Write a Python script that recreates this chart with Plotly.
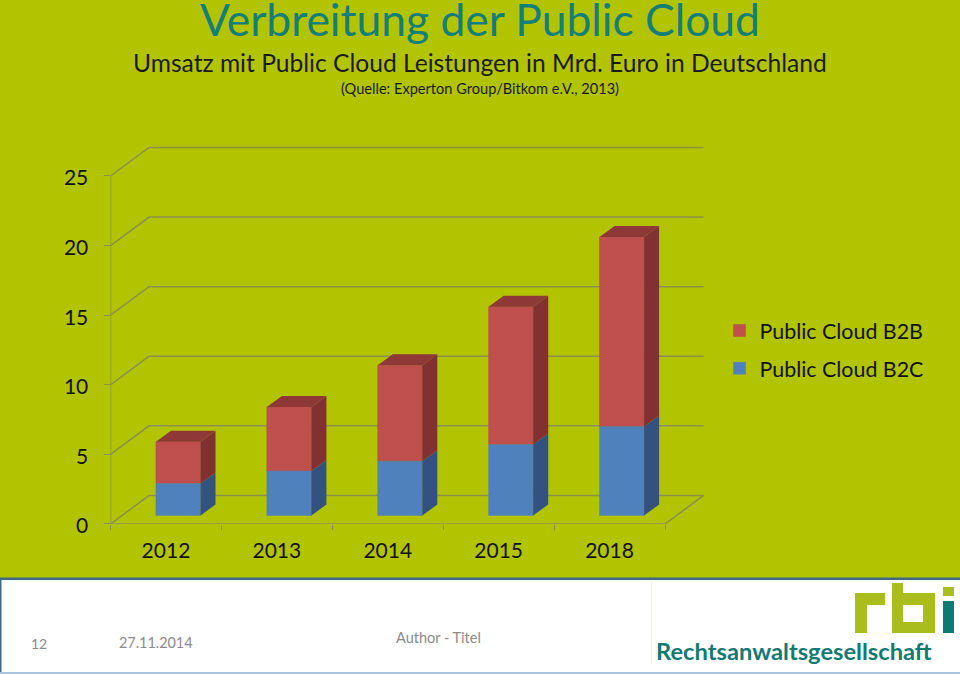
import plotly.graph_objects as go

years = ["2012", "2013", "2014", "2015", "2018"]
b2c = [2.3, 3.2, 3.9, 5.1, 6.4]
b2b = [3.0, 4.6, 6.9, 9.9, 13.6]
y_ticks = [0, 5, 10, 15, 20, 25]

W, H = 960, 674
px = lambda v: v / W
py = lambda v: 1 - v / H

BG = "#B2C400"
GRID = "#8C8F4A"
FONT = "Lato"
TEAL = "#147F78"
LIME = "#A9BD1C"

WALL_DX, WALL_DY = 0.3476, 2.05
BAR_SHIFT_X, BAR_BASE = 0.1106, 0.61
BAR_W = 0.4018
BAR_DX, BAR_DY = 0.1354, 0.79

xs = [i + BAR_SHIFT_X for i in range(len(years))]
fig = go.Figure()

# walls, floor and the front axis lines
gx, gy = [], []
for v in y_ticks:
    gx += [-0.5, -0.5 + WALL_DX, 4.5 + WALL_DX, None]
    gy += [v, v + WALL_DY, v + WALL_DY, None]
gx += [4.5, 4.5 + WALL_DX, None, -0.5, 4.5, None, -0.5, -0.5]
gy += [0, WALL_DY, None, 0, 0, None, 0, 25]
fig.add_trace(go.Scatter(x=gx, y=gy, mode="lines", line=dict(color=GRID, width=1.5),
                         cliponaxis=False, showlegend=False, hoverinfo="skip"))

fig.add_trace(go.Bar(x=xs, y=b2b, base=[BAR_BASE + c for c in b2c], width=BAR_W, name="Public Cloud B2B",
                     legendgroup="a", marker=dict(color="#C0504D", line=dict(color="#A5534F", width=0.5)),
                     xaxis="x2", yaxis="y2", cliponaxis=False))
fig.add_trace(go.Bar(x=xs, y=b2c, base=[BAR_BASE] * len(b2c), width=BAR_W, name="Public Cloud B2C",
                     legendgroup="b", marker=dict(color="#4F81BD", line=dict(color="#5F7F9F", width=0.5)),
                     xaxis="x2", yaxis="y2", cliponaxis=False))


def side(lo, hi):
    px_, py_ = [], []
    for x, a, b in zip(xs, lo, hi):
        r = x + BAR_W / 2
        px_ += [r, r + BAR_DX, r + BAR_DX, r, r, None]
        py_ += [a, a + BAR_DY, b + BAR_DY, b, a, None]
    return px_, py_


split = [BAR_BASE + c for c in b2c]
top = [s + b for s, b in zip(split, b2b)]
sx, sy = side([BAR_BASE] * len(b2c), split)
fig.add_trace(go.Scatter(x=sx, y=sy, mode="lines", fill="toself", fillcolor="#34527F", line=dict(width=0),
                         xaxis="x2", yaxis="y2", cliponaxis=False, showlegend=False, hoverinfo="skip"))
sx, sy = side(split, top)
fig.add_trace(go.Scatter(x=sx, y=sy, mode="lines", fill="toself", fillcolor="#823133", line=dict(width=0),
                         xaxis="x2", yaxis="y2", cliponaxis=False, showlegend=False, hoverinfo="skip"))
tx, ty = [], []
for x, t in zip(xs, top):
    l, r = x - BAR_W / 2, x + BAR_W / 2
    tx += [l, l + BAR_DX, r + BAR_DX, r, l, None]
    ty += [t, t + BAR_DY, t + BAR_DY, t, t, None]
fig.add_trace(go.Scatter(x=tx, y=ty, mode="lines", fill="toself", fillcolor="#8E3838", line=dict(width=0),
                         xaxis="x2", yaxis="y2", cliponaxis=False, showlegend=False, hoverinfo="skip"))


def rect(x0, y0, x1, y1, color):
    return dict(type="rect", xref="paper", yref="paper", x0=px(x0), x1=px(x1), y0=py(y0), y1=py(y1),
                fillcolor=color, line=dict(width=0), layer="above")


shapes = [
    rect(0, 579, 960, 673, "#FFFFFF"),
    rect(0, 577.5, 960, 580, "#3F6A86"),
    rect(0, 579, 1.5, 673, "#3F6A86"),
    rect(0, 672, 960, 674, "#A9C2DE"),
    rect(651, 582, 652, 664, "#EFEFE6"),
    rect(855, 593, 867, 633, LIME), rect(855, 593, 885, 605, LIME),
    rect(892, 583, 903, 633, LIME), rect(892, 593, 935, 605, LIME),
    rect(892, 622, 935, 633, LIME), rect(923, 593, 935, 633, LIME),
    rect(943, 587, 954, 596, LIME), rect(943, 601, 954, 633, "#0B7C74"),
]


def text(s, x, y, size, color, anchor="left", family=FONT):
    return dict(text=s, xref="paper", yref="paper", x=px(x), y=py(y), xanchor=anchor, yanchor="middle",
                showarrow=False, font=dict(family=family, size=size, color=color))


annotations = [
    text("Verbreitung der Public Cloud", 480, 18, 44.4, TEAL, "center"),
    text("Umsatz mit Public Cloud Leistungen in Mrd. Euro in Deutschland", 480, 63, 24.6, "#1A1A1A", "center"),
    text("(Quelle: Experton Group/Bitkom e.V., 2013)", 480, 89, 14.6, "#1A1A1A", "center"),
    text("12", 29, 643, 14, "#8A8A8A"),
    text("27.11.2014", 117, 642, 14.4, "#8A8A8A"),
    text("Author - Titel", 394, 637, 14.5, "#8A8A8A"),
    text("<b>Rechtsanwaltsgesellschaft</b>", 654, 651, 23.7, "#137A72"),
]

# one x unit = 110.9 px, one y unit = 13.92 px; the ranges leave room for the back wall
fr = [-0.5, 4.9]
yr = [0, 27.2]
xdom = [px(110.5), px(110.5 + 5.4 * 110.9)]
ydom = [py(524), py(524 - 27.2 * 13.92)]
tick_font = dict(family=FONT, size=21, color="#111111")

fig.update_layout(
    width=W, height=H, autosize=False,
    margin=dict(l=0, r=0, t=0, b=0, pad=0, autoexpand=False),
    paper_bgcolor=BG, plot_bgcolor="rgba(0,0,0,0)",
    barmode="overlay",
    shapes=shapes, annotations=annotations,
    xaxis=dict(domain=xdom, range=fr, tickvals=list(range(len(years))), ticktext=years, ticks="",
               ticklabelstandoff=12, tickfont=tick_font, showgrid=False, zeroline=False, showline=False,
               minor=dict(tickvals=[-0.5, 0.5, 1.5, 2.5, 3.5, 4.5], ticks="outside", ticklen=5,
                          tickcolor=GRID, tickwidth=1, showgrid=False)),
    yaxis=dict(domain=ydom, range=yr, tickvals=y_ticks, ticks="outside", ticklen=6, tickcolor=GRID,
               ticklabelstandoff=11, ticklabelshift=2, tickfont=tick_font, showgrid=False, zeroline=False,
               showline=False),
    xaxis2=dict(domain=xdom, range=fr, overlaying="x", visible=False, anchor="y2"),
    yaxis2=dict(domain=ydom, range=yr, overlaying="y", visible=False, anchor="x2"),
    legend=dict(x=px(719.5), y=py(310), xanchor="left", yanchor="top", bgcolor="rgba(0,0,0,0)",
                font=dict(family=FONT, size=21.4, color="#111111"), tracegroupgap=7),
    showlegend=True,
)

fig.write_html("out.html", config={"displayModeBar": False},
               post_script="document.body.style.margin='0';document.documentElement.style.overflow='hidden';document.documentElement.style.background='" + BG + "';")
